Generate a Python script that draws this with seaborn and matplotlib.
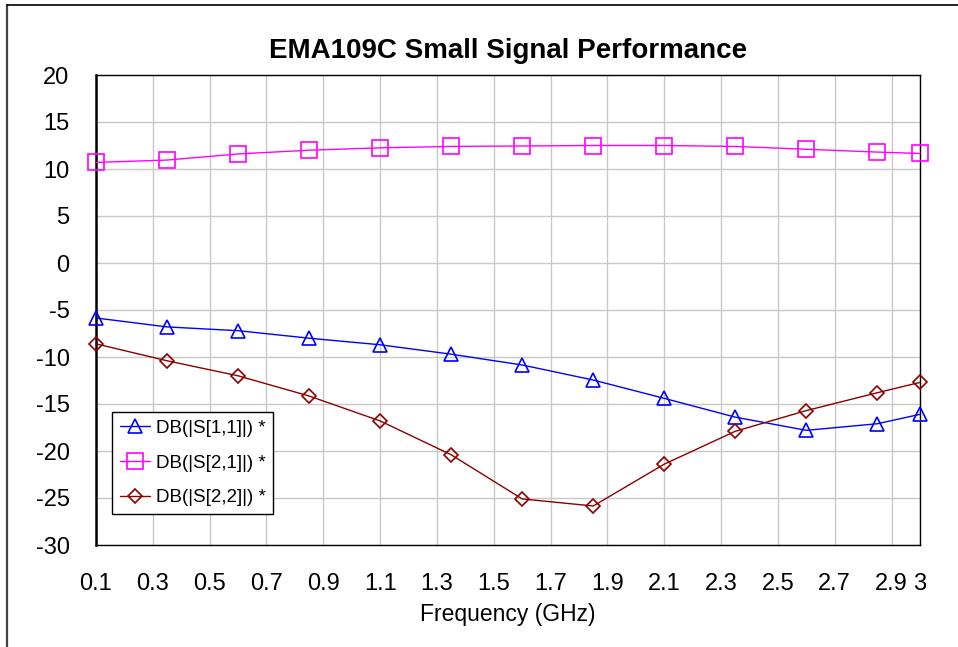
import numpy as np
import pandas as pd
import matplotlib
matplotlib.use("Agg")
import matplotlib.pyplot as plt
import seaborn as sns

freq = [0.1, 0.35, 0.6, 0.85, 1.1, 1.35, 1.6, 1.85, 2.1, 2.35, 2.6, 2.85, 3.0]
s11 = [-5.85, -6.8, -7.2, -8.0, -8.7, -9.7, -10.85, -12.45, -14.4, -16.4, -17.8, -17.1, -16.1]
s21 = [10.7, 10.95, 11.6, 12.0, 12.25, 12.4, 12.45, 12.5, 12.5, 12.4, 12.1, 11.8, 11.65]
s22 = [-8.6, -10.4, -12.0, -14.15, -16.8, -20.4, -25.1, -25.85, -21.4, -17.9, -15.7, -13.8, -12.7]

x_ticks = [0.1, 0.3, 0.5, 0.7, 0.9, 1.1, 1.3, 1.5, 1.7, 1.9, 2.1, 2.3, 2.5, 2.7, 2.9, 3.0]
x_tick_labels = ["0.1", "0.3", "0.5", "0.7", "0.9", "1.1", "1.3", "1.5", "1.7", "1.9",
                 "2.1", "2.3", "2.5", "2.7", "2.9", "3"]
y_ticks = [20, 15, 10, 5, 0, -5, -10, -15, -20, -25, -30]

series = [
    ("DB(|S[1,1]|) *", s11, "#0000ff", "^", 10.5),
    ("DB(|S[2,1]|) *", s21, "#ff00ff", "s", 11),
    ("DB(|S[2,2]|) *", s22, "#8b0000", "D", 7.5),
]

sns.set_style("white")
plt.rcParams["font.family"] = ["Liberation Sans", "DejaVu Sans"]
plt.rcParams["axes.unicode_minus"] = False
plt.rcParams["text.color"] = "black"
plt.rcParams["axes.labelcolor"] = "black"
plt.rcParams["xtick.color"] = "black"
plt.rcParams["ytick.color"] = "black"

W, H = 958, 647
fig = plt.figure(figsize=(W / 100, H / 100), dpi=100)
ax = fig.add_axes([96 / W, 1 - 545 / H, (920 - 96) / W, (545 - 75) / H])

for label, vals, color, marker, ms in series:
    df = pd.DataFrame({"freq": freq, "db": vals})
    sns.lineplot(data=df, x="freq", y="db", ax=ax, color=color, linewidth=1.0,
                 marker=marker, markersize=ms, markerfacecolor="none",
                 markeredgecolor=color, markeredgewidth=1.2, label=label,
                 clip_on=False, zorder=3)

ax.set_xlim(0.1, 3.0)
ax.set_ylim(-30, 20)
ax.set_xticks(x_ticks)
ax.set_xticklabels(x_tick_labels)
ax.set_yticks(y_ticks)
ax.tick_params(axis="both", length=0, labelsize=17, colors="black")
ax.tick_params(axis="x", pad=20)
ax.tick_params(axis="y", pad=19)
ax.grid(True, color="#c8c8c8", linewidth=1.0)
for side in ["top", "bottom", "right"]:
    ax.spines[side].set_color("black")
    ax.spines[side].set_linewidth(1.0)
ax.spines["left"].set_color("black")
ax.spines["left"].set_linewidth(1.8)

ax.set_xlabel("Frequency (GHz)", fontsize=16.5, labelpad=6, color="black")
ax.set_ylabel("")
ax.set_title("EMA109C Small Signal Performance", fontsize=20, fontweight="bold",
             pad=12, color="black")

leg = ax.legend(loc="upper left", bbox_to_anchor=((112 - 96) / 824, 1 - (412 - 75) / 470),
                borderaxespad=0, fontsize=13.5, frameon=True, fancybox=False,
                edgecolor="black", framealpha=1, borderpad=0.4, labelspacing=0.95,
                handlelength=1.6, handletextpad=0.35)
leg.get_frame().set_linewidth(1.0)

fig.add_artist(plt.Line2D([7 / W, 7 / W], [0, 1 - 5 / H], color="#404040", linewidth=1.6))
fig.add_artist(plt.Line2D([7 / W, 1], [1 - 5 / H, 1 - 5 / H], color="black", linewidth=1.2))

plt.savefig("out.png", dpi=100)
plt.close()
